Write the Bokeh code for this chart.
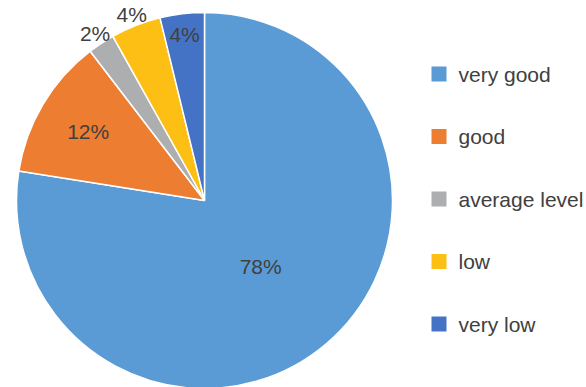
import numpy as np
from bokeh.plotting import figure
from bokeh.models import Range1d, ColumnDataSource
from bokeh.core.properties import value
from bokeh.embed import file_html
from bokeh.resources import INLINE

# ---- data ----
categories = ["very good", "good", "average level", "low", "very low"]
shares = [77.5, 12.1, 2.3, 4.3, 3.8]
labels = ["78%", "12%", "2%", "4%", "4%"]
colors = ["#5B9BD5", "#ED7D31", "#ADAEB0", "#FDBF14", "#4472C4"]

# ---- layout (pixels) ----
W, H = 586, 387
cx, cy, R = 204, H - 200, 188
label_radius_frac = [0.46, 0.72, 1.06, 1.06, 0.89]
FONT = value("Liberation Sans")
TXT = "#404040"

vals = np.array(shares, dtype=float)
frac = vals / vals.sum()
cum = np.concatenate([[0], np.cumsum(frac)])
bound = np.pi / 2 - 2 * np.pi * cum  # clockwise from 12 o'clock
start = bound[1:]
end = bound[:-1]
mid = (start + end) / 2

p = figure(width=W, height=H, output_backend="svg", toolbar_location=None,
           x_range=Range1d(0, W), y_range=Range1d(0, H), min_border=0)
p.axis.visible = False
p.grid.visible = False
p.outline_line_color = None
p.background_fill_color = "white"
p.border_fill_color = "white"

src = ColumnDataSource(dict(x=[cx] * len(vals), y=[cy] * len(vals), s=start, e=end, c=colors))
p.wedge(x="x", y="y", radius=R, start_angle="s", end_angle="e", direction="anticlock",
        fill_color="c", line_color="white", line_width=1.5, source=src)

lx = [cx + f * R * np.cos(m) for f, m in zip(label_radius_frac, mid)]
ly = [cy + f * R * np.sin(m) for f, m in zip(label_radius_frac, mid)]
p.text(x=lx, y=ly, text=labels, text_align="center", text_baseline="middle",
       text_font=FONT, text_font_size="21px", text_color=TXT)

# legend
ly0, dy = H - 73.5, 62.5
leg_y = [ly0 - i * dy for i in range(len(categories))]
p.rect(x=[438.5] * len(categories), y=leg_y, width=15, height=15,
       fill_color=colors, line_color=None)
p.text(x=[458] * len(categories), y=leg_y, text=categories, text_align="left",
       text_baseline="middle", text_font=FONT, text_font_size="21px", text_color=TXT)

open("out.html", "w").write(file_html(p, INLINE))
